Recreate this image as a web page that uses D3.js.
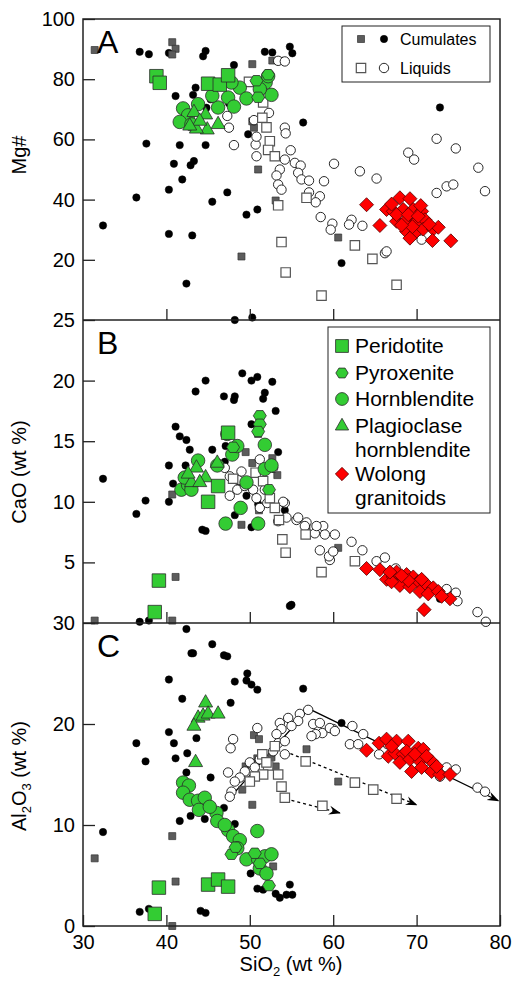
<!DOCTYPE html>
<html>
<head>
<meta charset="utf-8">
<script src="https://cdn.jsdelivr.net/npm/d3@7"></script>
<style>
body { margin: 0; background: #fff; }
text { font-family: "Liberation Sans", Arial, sans-serif; }
</style>
</head>
<body>
<div id="graph"></div>
<script>
// ---- axes ----
const xTicks = [30, 40, 50, 60, 70, 80]
const aTicks = [20, 40, 60, 80, 100]
const bTicks = [5, 10, 15, 20, 25]
const cTicks = [0, 10, 20, 30]

// ---- panel A : Mg# vs SiO2 ----
const aCumCirc = [[32.4,31.4],[36.8,89.1],[37.9,88.3],[40.3,88.7],[44.7,89.4],[44.4,87.6],[48.1,84.7],[41.1,74.4],[43.2,74.8],[43.5,77.2],[45.3,73.3],[37.6,58.6],[41.6,58.1],[44.7,58.1],[40.9,51.9],[42.9,51.4],[43.3,52.8],[41.9,46.7],[40.3,43.3],[36.4,40.7],[45.5,39.3],[47.3,42.4],[49.6,35.0],[50.9,36.7],[40.3,28.6],[43.1,28.1],[42.4,12.1],[49.8,61.7],[51.8,89.1],[52.7,88.9],[53.9,86.1],[54.8,90.8],[55.1,88.6],[56.4,65.6],[72.8,70.6],[61.0,18.9],[47.5,72.0],[44.8,70.5]]
const aCumSq = [[31.4,89.7],[40.7,92.3],[41.1,90.1],[40.7,88.2],[49.0,21.1],[50.3,85.0],[50.5,63.9],[51.0,50.0],[52.7,86.2],[53.1,39.7],[60.6,27.4],[50.3,66.0]]
const aLiqSq = [[49.9,79.1],[51.6,72.3],[51.5,67.2],[52.0,64.0],[52.4,59.4],[52.2,56.5],[53.0,54.4],[56.8,40.6],[53.4,38.1],[53.8,25.9],[54.3,15.8],[58.6,8.1],[62.6,24.8],[64.7,20.3],[67.6,11.7]]
const aLiqCirc = [[47.3,67.8],[47.5,63.9],[48.1,58.1],[50.5,66.4],[50.7,58.3],[50.8,54.4],[52.3,68.8],[54.2,63.9],[54.3,62.0],[50.8,60.9],[54.9,56.4],[54.2,53.3],[55.4,52.2],[56.1,51.3],[53.6,50.0],[53.2,48.0],[55.8,48.9],[56.2,46.7],[57.1,46.3],[53.4,45.0],[53.8,43.3],[58.9,46.1],[60.1,51.9],[63.2,49.4],[65.2,47.0],[69.0,55.6],[69.7,53.3],[57.1,42.4],[58.4,41.1],[57.9,39.1],[58.5,34.2],[59.9,32.0],[59.7,30.0],[62.2,33.3],[61.9,31.7],[63.5,31.3],[66.2,22.2],[66.4,22.8],[72.4,60.2],[74.7,57.0],[77.4,50.6],[78.2,42.8],[72.4,42.2],[73.6,44.4],[74.4,45.0],[70.6,26.7],[69.5,29.5],[53.4,86.1],[54.2,85.9],[51.5,74.0]]
const aPerid = [[38.8,81.0],[39.2,78.8],[45.0,78.5],[46.4,78.2],[47.4,81.3]]
const aPyrox = [[52.2,81.5],[50.8,79.5],[51.0,74.0]]
const aHornb = [[42.0,70.3],[43.8,71.7],[46.2,70.6],[47.4,73.9],[48.1,70.9],[48.8,77.2],[49.6,73.6],[51.9,78.9],[52.6,74.8],[42.6,68.0],[41.6,65.8],[43.0,65.0],[47.8,78.9],[51.2,76.7],[45.5,74.5],[52.2,81.0]]
const aPlag = [[43.3,69.0],[44.7,68.2],[44.9,63.2],[46.2,65.0],[43.6,63.5],[44.0,66.1],[42.8,64.5]]
const aWolong = [[64.0,38.3],[65.6,31.4],[68.0,40.6],[69.2,40.3],[66.4,36.7],[67.2,36.1],[68.4,36.7],[69.6,36.7],[70.6,36.1],[67.6,32.8],[68.8,33.3],[70.0,32.8],[71.0,33.3],[68.8,29.4],[69.8,28.9],[70.8,30.2],[72.0,30.2],[72.6,30.8],[69.2,27.2],[71.9,26.4],[74.1,26.3],[67.6,35.0],[69.0,35.0],[70.2,34.5],[71.5,31.8],[69.5,31.0],[68.2,31.5],[70.5,38.0],[67.0,38.5]]

// ---- panel B : CaO vs SiO2 ----
const bCumCirc = [[32.4,11.9],[36.4,9.0],[37.5,10.1],[40.3,10.0],[40.8,11.5],[40.3,13.0],[41.1,16.2],[41.6,15.4],[42.4,15.1],[42.8,14.3],[42.3,13.0],[43.5,19.1],[44.7,20.0],[46.9,18.7],[48.2,18.7],[48.1,18.4],[49.1,20.6],[50.2,20.0],[50.9,20.3],[52.7,19.9],[51.8,19.0],[51.6,18.5],[53.1,17.5],[45.5,14.3],[47.1,14.6],[47.0,13.3],[48.2,8.9],[44.3,7.7],[44.7,7.6],[50.2,7.9],[49.6,10.5],[50.2,16.4],[53.4,14.1],[51.0,9.8],[54.2,9.3],[48.2,25.0],[50.3,25.2],[36.8,0.1],[37.9,0.2],[54.8,1.4],[55.0,1.5],[72.8,2.0]]
const bCumSq = [[31.4,0.2],[40.7,10.6],[41.1,3.8],[40.7,0.2],[49.5,14.1],[50.3,13.2],[52.7,13.6],[49.0,8.1],[51.1,9.3],[51.0,15.6],[56.8,7.8],[60.6,6.2],[53.3,12.2]]
const bLiqSq = [[50.7,12.4],[51.6,11.7],[52.4,10.3],[53.0,9.5],[53.5,8.5],[53.9,6.9],[54.3,5.8],[56.7,7.3],[58.6,4.2],[62.6,5.1],[48.0,11.9]]
const bLiqCirc = [[47.6,12.1],[48.6,11.8],[47.6,10.5],[48.5,11.0],[49.4,11.3],[50.4,11.0],[50.8,10.3],[51.2,9.5],[52.1,9.9],[51.8,11.0],[54.2,9.9],[54.4,8.7],[55.6,8.5],[56.8,8.3],[57.8,7.4],[58.8,8.0],[58.4,6.0],[59.6,5.2],[53.4,8.4],[54.0,10.0],[55.8,8.7],[56.6,8.0],[58.0,8.0],[59.0,7.3],[60.2,7.3],[59.5,5.5],[60.0,5.9],[62.2,6.7],[63.5,6.0],[65.2,5.1],[66.2,5.4],[73.6,2.8],[74.7,2.5],[74.9,1.8],[77.3,0.9],[78.3,0.1],[47.0,12.8],[49.0,12.5],[52.8,12.8],[51.2,13.5],[67.5,4.5],[71.5,3.0],[72.8,2.5]]
const bPerid = [[46.2,11.3],[45.0,10.0],[47.4,15.7],[39.1,3.5],[38.6,0.9]]
const bPyrox = [[51.2,17.1],[51.2,16.4],[51.0,15.8],[52.3,11.0],[48.0,14.5]]
const bHornb = [[41.8,11.0],[42.6,11.4],[43.0,11.0],[43.8,13.4],[46.1,13.0],[47.3,15.6],[47.9,13.9],[48.5,14.6],[49.6,11.6],[48.9,9.5],[47.1,8.2],[51.0,8.2],[51.8,14.7],[51.8,12.7],[52.6,13.0],[42.2,12.0]]
const bPlag = [[46.1,13.2],[43.6,12.8],[44.7,12.0],[43.0,11.6],[44.0,11.6],[42.6,12.3]]
const bWolong = [[64.0,4.5],[65.6,4.4],[66.4,3.6],[67.2,3.8],[67.6,4.2],[68.4,3.7],[68.8,4.0],[69.6,3.8],[70.2,3.4],[68.0,3.1],[69.2,3.0],[70.4,2.6],[71.0,3.3],[72.0,2.9],[71.4,2.4],[72.6,2.6],[74.0,2.0],[70.9,1.1],[67.0,3.4],[69.0,3.5],[70.6,3.6],[73.0,2.2],[66.8,4.2],[68.2,3.9]]

// ---- panel C : Al2O3 vs SiO2 ----
const cCumCirc = [[32.4,9.3],[36.4,18.1],[37.5,16.3],[36.8,1.4],[37.9,1.7],[40.3,24.4],[41.9,22.5],[40.3,19.2],[40.9,18.1],[41.1,16.6],[42.4,29.4],[43.0,27.0],[43.2,27.0],[45.5,27.9],[46.9,26.8],[47.3,26.7],[47.7,22.1],[48.2,24.2],[49.7,25.0],[49.6,24.3],[50.2,23.9],[50.9,23.4],[42.5,17.1],[43.6,18.6],[42.4,15.2],[45.3,14.7],[46.9,11.7],[42.9,10.9],[41.6,10.4],[44.6,10.6],[48.2,10.1],[44.1,1.5],[44.7,1.3],[50.1,5.2],[50.9,3.7],[51.6,3.6],[53.1,3.2],[53.6,2.8],[54.4,3.1],[55.1,3.1],[54.8,4.1],[56.4,23.5],[61.0,20.1],[72.8,15.1]]
const cCumSq = [[31.4,6.7],[40.7,8.9],[41.1,4.4],[40.7,0.0],[50.3,12.0],[49.1,13.5],[49.5,15.8],[50.5,18.9],[51.1,18.5],[50.9,16.6],[52.6,16.7],[53.1,15.8],[56.8,17.5],[60.6,14.3],[52.8,5.9]]
const cLiqSq = [[53.0,17.8],[51.5,17.0],[52.2,15.9],[53.4,15.0],[51.6,15.0],[50.6,14.8],[50.0,14.3],[53.8,13.8],[54.2,12.7],[56.7,16.3],[58.7,11.9],[62.6,14.2],[64.8,13.5],[67.6,12.6],[52.0,16.2]]
const cLiqCirc = [[50.9,19.6],[48.0,18.5],[47.7,17.6],[53.6,20.1],[53.8,19.5],[54.6,20.6],[56.0,21.0],[55.8,20.3],[57.0,21.4],[55.0,19.8],[53.2,19.0],[53.4,18.1],[54.2,18.3],[52.8,17.3],[54.2,17.0],[51.2,16.5],[50.0,16.2],[50.6,15.7],[49.4,15.3],[48.8,14.7],[48.2,14.3],[47.8,13.3],[47.6,12.8],[47.4,15.2],[57.6,20.0],[58.4,20.1],[58.7,19.1],[57.9,19.0],[60.0,19.5],[59.6,19.6],[60.2,19.3],[57.4,18.8],[62.3,19.8],[63.6,19.0],[62.0,18.0],[63.0,18.0],[73.6,15.7],[74.7,15.5],[77.3,13.7],[78.2,13.3],[72.8,14.8],[71.5,15.5],[66.5,18.0],[65.5,17.0]]
const cPerid = [[39.1,3.8],[38.6,1.2],[45.0,4.1],[46.2,4.6],[47.4,3.9]]
const cPyrox = [[47.8,7.1],[51.2,6.2],[52.3,4.0],[50.6,7.2],[48.3,7.8]]
const cHornb = [[42.0,14.2],[42.7,13.9],[42.0,13.2],[42.8,12.5],[43.8,12.4],[44.6,12.7],[43.9,11.5],[46.0,11.2],[46.1,10.4],[47.4,9.5],[48.0,8.9],[48.8,8.5],[48.5,7.7],[49.6,6.6],[51.0,6.6],[50.9,9.4],[51.8,6.9],[52.6,7.1],[51.2,5.7],[52.0,5.2],[45.2,11.8],[47.0,10.0]]
const cPlag = [[44.7,22.1],[43.8,20.6],[44.4,20.8],[45.0,21.0],[43.3,19.8],[46.2,21.0],[43.5,16.2]]
const cWolong = [[64.0,17.4],[65.5,18.1],[66.4,18.5],[67.6,18.3],[69.0,18.3],[70.2,17.6],[70.8,17.5],[66.6,16.8],[67.4,17.1],[68.4,17.0],[68.8,17.3],[68.0,16.2],[69.2,16.5],[70.4,16.3],[71.8,16.3],[69.4,15.3],[70.6,15.7],[71.8,15.3],[72.8,15.0],[74.0,15.0],[69.8,17.0],[71.2,16.8],[67.0,17.8],[72.4,15.8]]

// trend arrows in panel C
const cTrendSolid = [[47.5,12.6],[57.1,21.5],[79.8,12.4]]
const cTrendDash1 = [[54.2,17.3],[70.0,12.0]]
const cTrendDash2 = [[54.3,12.6],[60.8,11.2]]

const width = 514
const height = 987
const left = 83, right = 500

const svg = d3.select("#graph").append("svg")
    .attr("width", width).attr("height", height)

const x = d3.scaleLinear().domain([30, 80]).range([left, right])
const yA = d3.scaleLinear().domain([0, 100]).range([320, 19])
const yB = d3.scaleLinear().domain([0, 25]).range([623, 320])
const yC = d3.scaleLinear().domain([0, 30]).range([926, 623])

const green = "#33cc33"
const styles = {
    cumCirc: {shape: "circle", size: 7.4, fill: "#000", stroke: "#000", sw: 0.5},
    cumSq: {shape: "square", size: 7, fill: "#5c5c5c", stroke: "#333", sw: 0.7},
    liqCirc: {shape: "circle", size: 9.4, fill: "#fff", stroke: "#111", sw: 0.9},
    liqSq: {shape: "square", size: 9.4, fill: "#fff", stroke: "#555", sw: 1.2},
    perid: {shape: "square", size: 13.5, fill: green, stroke: "#2b2b2b", sw: 0.8},
    pyrox: {shape: "hexagon", size: 13, fill: green, stroke: "#2b2b2b", sw: 0.8},
    hornb: {shape: "circle", size: 13.5, fill: green, stroke: "#2b2b2b", sw: 0.8},
    plag: {shape: "triangle", size: 14, fill: green, stroke: "#2b2b2b", sw: 0.8},
    wolong: {shape: "diamond", size: 14, fill: "#ff0000", stroke: "#550000", sw: 0.8}
}

function shape(type, s) {
    const h = s / 2
    if (type == "circle") return `M${h},0A${h},${h} 0 1,1 ${-h},0A${h},${h} 0 1,1 ${h},0Z`
    if (type == "square") return `M${-h},${-h}H${h}V${h}H${-h}Z`
    if (type == "diamond") return `M0,${-h}L${h},0L0,${h}L${-h},0Z`
    if (type == "triangle") return `M0,${-s * 0.58}L${h},${s * 0.3}L${-h},${s * 0.3}Z`
    // hexagon, points left and right
    let p = []
    for (let i = 0; i < 6; i++) {
        let a = Math.PI / 3 * i
        p.push([h * Math.cos(a), h * 0.92 * Math.sin(a)])
    }
    return "M" + p.map(d => d.join(",")).join("L") + "Z"
}

function drawPoints(g, data, y, st) {
    g.append("g").selectAll("path").data(data).join("path")
        .attr("d", shape(st.shape, st.size))
        .attr("transform", d => `translate(${x(d[0])},${y(d[1])})`)
        .attr("fill", st.fill)
        .attr("stroke", st.stroke)
        .attr("stroke-width", st.sw)
}

// arrow head for the trends
svg.append("defs").append("marker")
    .attr("id", "arrow")
    .attr("viewBox", "0 0 12 10")
    .attr("refX", 11).attr("refY", 5)
    .attr("markerWidth", 12).attr("markerHeight", 10)
    .attr("markerUnits", "userSpaceOnUse")
    .attr("orient", "auto")
    .append("path").attr("d", "M0,0.5L12,5L0,9.5L4,5Z").attr("fill", "#000")

const panels = [
    {y: yA, ticks: aTicks, cumCirc: aCumCirc, cumSq: aCumSq, liqCirc: aLiqCirc, liqSq: aLiqSq,
        perid: aPerid, pyrox: aPyrox, hornb: aHornb, plag: aPlag, wolong: aWolong},
    {y: yB, ticks: bTicks, cumCirc: bCumCirc, cumSq: bCumSq, liqCirc: bLiqCirc, liqSq: bLiqSq,
        perid: bPerid, pyrox: bPyrox, hornb: bHornb, plag: bPlag, wolong: bWolong},
    {y: yC, ticks: cTicks, cumCirc: cCumCirc, cumSq: cCumSq, liqCirc: cLiqCirc, liqSq: cLiqSq,
        perid: cPerid, pyrox: cPyrox, hornb: cHornb, plag: cPlag, wolong: cWolong}
]

// trend lines drawn first, points go over them
const line = d3.line().x(d => x(d[0])).y(d => yC(d[1]))
svg.append("path").datum(cTrendSolid).attr("d", line)
    .attr("fill", "none").attr("stroke", "#000").attr("stroke-width", 1.3)
    .attr("marker-end", "url(#arrow)")
;[cTrendDash1, cTrendDash2].forEach(t => {
    svg.append("path").datum(t).attr("d", line)
        .attr("fill", "none").attr("stroke", "#000").attr("stroke-width", 1.3)
        .attr("stroke-dasharray", "3,3")
        .attr("marker-end", "url(#arrow)")
})

panels.forEach(p => {
    const g = svg.append("g")
    drawPoints(g, p.cumCirc, p.y, styles.cumCirc)
    drawPoints(g, p.cumSq, p.y, styles.cumSq)
    drawPoints(g, p.liqCirc, p.y, styles.liqCirc)
    drawPoints(g, p.liqSq, p.y, styles.liqSq)
    drawPoints(g, p.hornb, p.y, styles.hornb)
    drawPoints(g, p.plag, p.y, styles.plag)
    drawPoints(g, p.perid, p.y, styles.perid)
    drawPoints(g, p.pyrox, p.y, styles.pyrox)
    drawPoints(g, p.wolong, p.y, styles.wolong)
})

// axes
function styleAxis(g) {
    g.select(".domain").remove()
    g.attr("font-family", null).attr("font-size", null)
    g.selectAll("line").attr("stroke", "#222").attr("stroke-width", 1.3)
    g.selectAll("text").attr("font-size", 20).attr("fill", "#000")
}

panels.forEach(p => {
    svg.append("g").attr("transform", `translate(${left},0)`)
        .call(d3.axisLeft(p.y).tickValues(p.ticks).tickSize(-12).tickPadding(8))
        .call(styleAxis)
})
svg.append("g").attr("transform", `translate(0,${yA(0)})`)
    .call(d3.axisBottom(x).tickValues(xTicks.slice(1, -1)).tickSize(-11).tickFormat(""))
    .call(styleAxis)
svg.append("g").attr("transform", `translate(0,${yB(0)})`)
    .call(d3.axisBottom(x).tickValues(xTicks.slice(1, -1)).tickSize(-11).tickFormat(""))
    .call(styleAxis)
svg.append("g").attr("transform", `translate(0,${yC(0)})`)
    .call(d3.axisBottom(x).tickValues(xTicks).tickSize(-11).tickPadding(9))
    .call(styleAxis)

// frame
svg.append("rect").attr("x", left).attr("y", yA(100))
    .attr("width", right - left).attr("height", yC(0) - yA(100))
    .attr("fill", "none").attr("stroke", "#222").attr("stroke-width", 1.5)
;[yA(0), yB(0)].forEach(v => {
    svg.append("line").attr("x1", left).attr("x2", right).attr("y1", v).attr("y2", v)
        .attr("stroke", "#222").attr("stroke-width", 1.5)
})

// panel letters
;[["A", yA(100)], ["B", yB(25)], ["C", yC(30)]].forEach(d => {
    svg.append("text").attr("x", 97).attr("y", d[1] + 34).attr("font-size", 32).text(d[0])
})

// axis titles
svg.append("text").attr("transform", "translate(26,155) rotate(-90)")
    .attr("text-anchor", "middle").attr("font-size", 20).text("Mg#")
svg.append("text").attr("transform", "translate(26,472) rotate(-90)")
    .attr("text-anchor", "middle").attr("font-size", 20).text("CaO (wt %)")
const al = svg.append("text").attr("transform", "translate(26,776) rotate(-90)")
    .attr("text-anchor", "middle").attr("font-size", 20)
al.append("tspan").text("Al")
al.append("tspan").attr("dy", 5).attr("font-size", 13).text("2")
al.append("tspan").attr("dy", -5).text("O")
al.append("tspan").attr("dy", 5).attr("font-size", 13).text("3")
al.append("tspan").attr("dy", -5).text(" (wt %)")
const si = svg.append("text").attr("x", 291).attr("y", 971)
    .attr("text-anchor", "middle").attr("font-size", 20)
si.append("tspan").text("SiO")
si.append("tspan").attr("dy", 5).attr("font-size", 13).text("2")
si.append("tspan").attr("dy", -5).text(" (wt %)")

// legend 1 (panel A)
svg.append("rect").attr("x", 342).attr("y", 26).attr("width", 148).attr("height", 56)
    .attr("fill", "#fff").attr("stroke", "#222").attr("stroke-width", 1)
const leg1 = [
    [styles.cumSq, styles.cumCirc, "Cumulates", 39],
    [styles.liqSq, styles.liqCirc, "Liquids", 68]
]
leg1.forEach(d => {
    svg.append("path").attr("d", shape(d[0].shape, d[0].size))
        .attr("transform", `translate(361,${d[3]})`)
        .attr("fill", d[0].fill).attr("stroke", d[0].stroke).attr("stroke-width", d[0].sw)
    svg.append("path").attr("d", shape(d[1].shape, d[1].size))
        .attr("transform", `translate(384,${d[3]})`)
        .attr("fill", d[1].fill).attr("stroke", d[1].stroke).attr("stroke-width", d[1].sw)
    svg.append("text").attr("x", 400).attr("y", d[3]).attr("dy", "0.35em")
        .attr("font-size", 16).text(d[2])
})

// legend 2 (panel B)
svg.append("rect").attr("x", 328).attr("y", 327).attr("width", 162).attr("height", 186)
    .attr("fill", "#fff").attr("stroke", "#222").attr("stroke-width", 1)
const leg2 = [
    [styles.perid, ["Peridotite"], 346],
    [styles.pyrox, ["Pyroxenite"], 373],
    [styles.hornb, ["Hornblendite"], 399],
    [styles.plag, ["Plagioclase", "hornblendite"], 426],
    [styles.wolong, ["Wolong", "granitoids"], 474]
]
leg2.forEach(d => {
    svg.append("path").attr("d", shape(d[0].shape, d[0].size * 0.95))
        .attr("transform", `translate(342,${d[2]})`)
        .attr("fill", d[0].fill).attr("stroke", d[0].stroke).attr("stroke-width", d[0].sw)
    d[1].forEach((t, i) => {
        svg.append("text").attr("x", 355).attr("y", d[2] + i * 23.5).attr("dy", "0.35em")
            .attr("font-size", 21).text(t)
    })
})
</script>
</body>
</html>
